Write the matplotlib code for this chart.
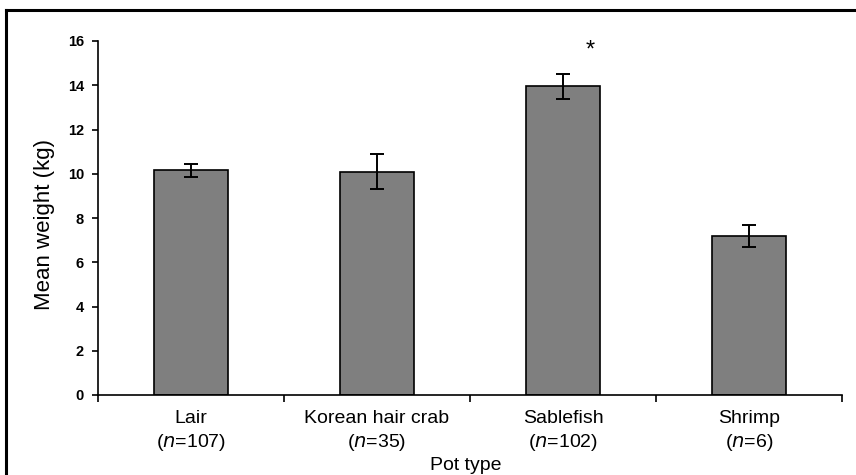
import numpy as np
import matplotlib.pyplot as plt
from matplotlib.lines import Line2D

plt.rcParams["font.family"] = ["Liberation Sans", "DejaVu Sans"]

categories = ["Lair", "Korean hair crab", "Sablefish", "Shrimp"]
counts = [107, 35, 102, 6]
means = [10.15, 10.1, 13.95, 7.2]
errors = [0.3, 0.8, 0.55, 0.5]
star_pos = (2.145, 15.55)

fig = plt.figure(figsize=(8.56, 4.75), dpi=100)
ax = fig.add_axes([98 / 856, 1 - 395 / 475, 744 / 856, (395 - 41) / 475])

x = np.arange(len(categories))
ax.bar(x, means, width=0.40, color="#7f7f7f", edgecolor="black", linewidth=1.2, zorder=2)
ax.errorbar(x, means, yerr=errors, fmt="none", ecolor="black", elinewidth=1.4,
            capsize=5, capthick=1.4, zorder=3)
ax.text(star_pos[0], star_pos[1], "*", ha="center", va="center", fontsize=17)

ax.set_xlim(-0.5, len(categories) - 0.5)
ax.set_ylim(0, 16)
ax.set_yticks(np.arange(0, 17, 2))
ax.tick_params(axis="y", direction="out", length=4, width=1.2, labelsize=10.5, pad=6)
for lab in ax.get_yticklabels():
    lab.set_fontweight("bold")
ax.set_xticks(np.arange(-0.5, len(categories), 1.0))
ax.set_xticklabels([])
ax.tick_params(axis="x", direction="out", length=5, width=1.2)
for i, (c, n) in enumerate(zip(categories, counts)):
    ax.text(i, -0.7, c, ha="center", va="top", fontsize=14)
    ax.text(i, -1.65, "(" + r"$\it{n}$" + f"={n})", ha="center", va="top", fontsize=14)

for s in ["top", "right"]:
    ax.spines[s].set_visible(False)
ax.spines["left"].set_linewidth(1.2)
ax.spines["bottom"].set_linewidth(1.2)

fig.text(45 / 856, 1 - 224 / 475, "Mean weight (kg)", rotation=90,
         ha="center", va="center", fontsize=16)
fig.text(466 / 856, 1 - 465 / 475, "Pot type", ha="center", va="center", fontsize=14)

# frame around figure (top and left edges visible)
fig.add_artist(Line2D([6 / 856, 1], [1 - 10 / 475, 1 - 10 / 475], color="black", lw=2.2,
                      transform=fig.transFigure))
fig.add_artist(Line2D([6 / 856, 6 / 856], [0, 1 - 10 / 475], color="black", lw=2.2,
                      transform=fig.transFigure))

fig.savefig("out.png", dpi=100)
